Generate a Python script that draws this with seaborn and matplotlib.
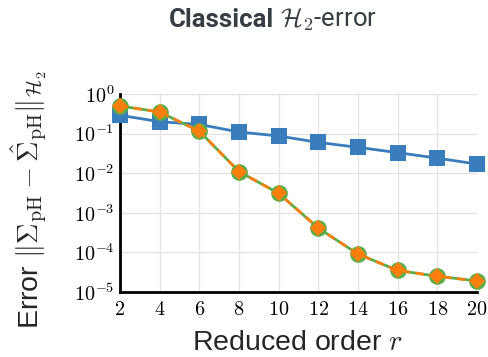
import matplotlib
matplotlib.use("Agg")
import matplotlib.pyplot as plt
import seaborn as sns
import numpy as np
import pandas as pd
from matplotlib.ticker import FixedLocator, FuncFormatter, NullLocator

r = [2, 4, 6, 8, 10, 12, 14, 16, 18, 20]
err_blue = [0.29, 0.20, 0.17, 0.11, 0.087, 0.060, 0.045, 0.033, 0.024, 0.017]
err_green = [0.50, 0.35, 0.115, 0.011, 0.0031, 4.1e-4, 9.1e-5, 3.5e-5, 2.5e-5, 1.9e-5]
err_orange = [0.50, 0.35, 0.115, 0.011, 0.0031, 4.1e-4, 9.1e-5, 3.5e-5, 2.5e-5, 1.9e-5]
yticks_exp = [0, -1, -2, -3, -4, -5]

sns.set_style("white")
plt.rcParams["mathtext.fontset"] = "cm"
plt.rcParams["font.family"] = ["Liberation Sans", "DejaVu Sans"]

BLUE = "#3a7dbd"
GREEN = "#5aad47"
ORANGE = "#ff7f0e"

fig = plt.figure(figsize=(4.89, 3.57), dpi=100)
ax = fig.add_axes([120 / 489, 1 - 292 / 357, (477 - 120) / 489, (292 - 94) / 357])

df_b = pd.DataFrame({"r": r, "err": err_blue})
df_g = pd.DataFrame({"r": r, "err": err_green})
df_o = pd.DataFrame({"r": r, "err": err_orange})

sns.lineplot(data=df_b, x="r", y="err", ax=ax, color=BLUE, lw=2, marker="s",
             markersize=11, markeredgewidth=0, zorder=3, clip_on=False)
sns.lineplot(data=df_g, x="r", y="err", ax=ax, color=GREEN, lw=2, marker="o",
             markersize=12, markeredgewidth=0, zorder=4, clip_on=False)
sns.lineplot(data=df_o, x="r", y="err", ax=ax, color=ORANGE, lw=2, marker="D",
             markersize=8, markeredgewidth=0, zorder=5, clip_on=False,
             linestyle=(0, (3, 2)))

ax.set_yscale("log")
ax.set_xlim(2, 20)
ax.set_ylim(1e-5, 1e0)
ax.xaxis.set_major_locator(FixedLocator(r))
ax.xaxis.set_major_formatter(FuncFormatter(lambda v, p: r"$%d$" % v))
ax.yaxis.set_major_locator(FixedLocator([10.0 ** e for e in yticks_exp]))
ax.yaxis.set_major_formatter(FuncFormatter(lambda v, p: r"$10^{%d}$" % round(np.log10(v))))
ax.yaxis.set_minor_locator(NullLocator())

ax.grid(True, color="#e3e3e3", lw=0.9, zorder=0)
ax.set_axisbelow(True)
for s in ["top", "right"]:
    ax.spines[s].set_visible(False)
for s in ["left", "bottom"]:
    ax.spines[s].set_color("black")
    ax.spines[s].set_linewidth(2)
ax.tick_params(axis="both", direction="in", length=7, width=1.2, color="black",
               labelsize=14.5, pad=4, colors="black")
ax.tick_params(axis="x", pad=6)

ax.set_xlabel(r"Reduced order $r$", fontsize=20.5, va="center")
ax.xaxis.set_label_coords((297 - 120) / 357, (292 - 343) / 198)
ax.set_ylabel(r"Error $\|\Sigma_{\rm pH}-\hat{\Sigma}_{\rm pH}\|_{\mathcal{H}_2}$",
              fontsize=20.5, va="center")
ax.yaxis.set_label_coords((29 - 120) / 357, (292 - 200) / 198)

fig.text(274 / 489, 1 - 20 / 357, "Classical", ha="right", va="center",
         fontsize=18.5, fontweight="bold", color="#373d43",
         family=["Roboto", "DejaVu Sans"])
fig.text(274 / 489, 1 - 20 / 357, r" $\mathcal{H}_2$-error", ha="left", va="center",
         fontsize=18.5, color="#373d43", family=["Roboto", "DejaVu Sans"])

fig.savefig("out.png", dpi=100)
